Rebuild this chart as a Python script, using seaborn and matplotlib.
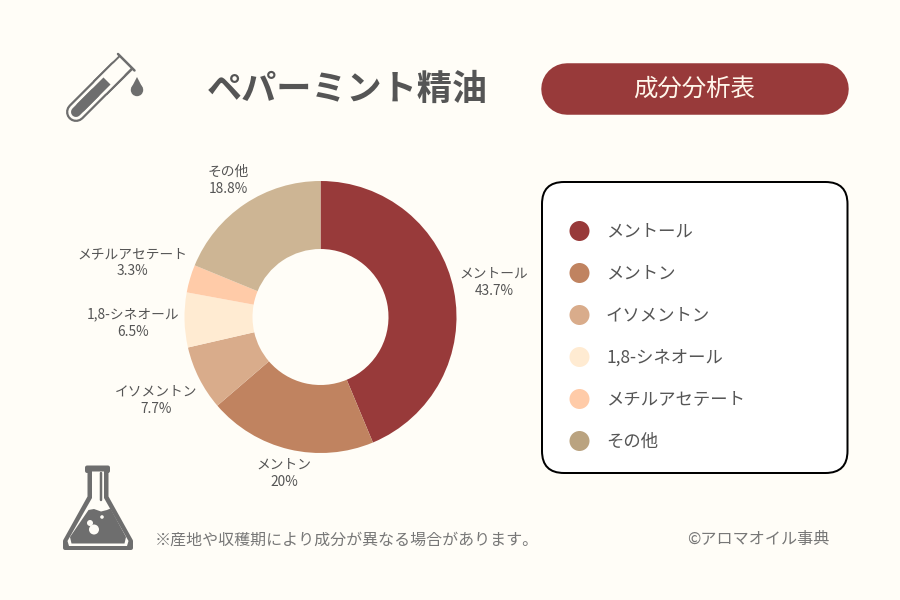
import matplotlib
matplotlib.use("Agg")
import matplotlib.pyplot as plt
from matplotlib.patches import Circle, FancyBboxPatch, Polygon
import pandas as pd
import seaborn as sns

components = ["メントール", "メントン", "イソメントン", "1,8-シネオール", "メチルアセテート", "その他"]
shares = [43.7, 20, 7.7, 6.5, 3.3, 18.8]
share_labels = ["43.7%", "20%", "7.7%", "6.5%", "3.3%", "18.8%"]
pie_colors = ["#983A3A", "#C08360", "#D9AC8B", "#FFEBD2", "#FFCBA8", "#CDB594"]
legend_colors = ["#983A3A", "#C08360", "#D9AC8B", "#FFEBD2", "#FFCBA8", "#BAA380"]

title = "ペパーミント精油"
badge = "成分分析表"
note = "※産地や収穫期により成分が異なる場合があります。"
credit = "©アロマオイル事典"

BG = "#FFFDF7"
INK = "#555555"
ICON = "#6E6E6E"

sns.set_theme(style="white")
plt.rcParams["font.family"] = ["Noto Sans CJK JP", "DejaVu Sans"]

fig = plt.figure(figsize=(9, 6), dpi=100, facecolor=BG)

# whole figure in pixel coordinates, for the layout parts
ax = fig.add_axes([0, 0, 1, 1])
ax.set_xlim(0, 900)
ax.set_ylim(600, 0)
ax.axis("off")


def px(n):
    return n * 0.72


def stroke(p0, p1, width, color, cap="butt", z=3):
    ax.plot([p0[0], p1[0]], [p0[1], p1[1]], color=color, lw=px(width),
            solid_capstyle=cap, zorder=z)


# header
ax.text(347, 89, title, fontsize=25.3, fontweight="bold", color=INK, ha="center", va="center")
stroke((567, 88.5), (823, 88.5), 51.5, "#983A3A", "round")
ax.text(694.5, 89, badge, fontsize=17.6, color="#FFF6EA", ha="center", va="center", zorder=4)

# test tube icon
rim_mid = (126, 62.5)
tube_end = (76, 112)
stroke(tube_end, (118, 70), 20, ICON, "round")
stroke((100, 88), rim_mid, 20, ICON, "butt")
stroke(tube_end, (118, 70), 15.5, BG, "round", z=4)
stroke((100, 88), (127, 61), 15.5, BG, "butt", z=4)
stroke(tube_end, (95, 93), 10, ICON, "round", z=5)
stroke((80, 108), (107, 81), 10, ICON, "butt", z=5)
stroke((118, 54), (134.5, 70.5), 2.5, ICON, "round", z=6)
ax.add_patch(Circle((137, 90), 6.2, fc=ICON, ec="none", zorder=5))
ax.add_patch(Polygon([(137, 77), (131.3, 88), (142.7, 88)], fc=ICON, ec="none", zorder=5))

# flask icon
outer = [(87, 467.5), (108, 467.5), (108, 471), (106.5, 471), (106.5, 497), (131, 541),
         (131, 548), (65, 548), (65, 541), (89.5, 497), (89.5, 471), (87, 471)]
ax.add_patch(Polygon(outer, fc=ICON, ec=ICON, lw=px(4), joinstyle="round", zorder=3))
inner = [(92, 471.5), (104, 471.5), (104, 498), (128.5, 541), (127, 546), (69, 546),
         (67.5, 541), (92, 498)]
ax.add_patch(Polygon(inner, fc=BG, ec="none", zorder=4))
liquid = [(88.5, 510), (94, 509), (101, 511.5), (107, 510), (110.5, 508.5), (126, 537), (124.5, 543.5),
          (71.5, 543.5), (70, 537)]
ax.add_patch(Polygon(liquid, fc=ICON, ec="none", zorder=5))
stroke((101, 473), (101, 500), 2.5, ICON, "round", z=5)
for x, y, r in [(90, 523, 3), (94, 529.5, 5), (102, 517, 1.8)]:
    ax.add_patch(Circle((x, y), r, fc=BG, ec="none", zorder=6))

# legend box
ax.add_patch(FancyBboxPatch((542, 182), 305.5, 291, boxstyle="round,pad=0,rounding_size=22",
                            fc="white", ec="black", lw=px(2), zorder=2))
legend_df = pd.DataFrame({"component": components,
                          "x": [579.5] * len(components),
                          "y": [231 + 42 * i for i in range(len(components))]})
sns.scatterplot(data=legend_df, x="x", y="y", hue="component", palette=legend_colors,
                s=px(20) ** 2, linewidth=0, legend=False, ax=ax, zorder=3)
ax.set_xlim(0, 900)
ax.set_ylim(600, 0)
ax.axis("off")
for name, y in zip(components, legend_df["y"]):
    ax.text(606, y + 0.5, name, fontsize=12.5, color=INK, ha="left", va="center", zorder=3)

# footer
ax.text(155, 540, note, fontsize=11.5, color="#777777", ha="left", va="center")
ax.text(829, 539.5, credit, fontsize=11.6, color="#777777", ha="right", va="center")

# donut
CX, CY, R = 320.5, 317, 136
pie_ax = fig.add_axes([(CX - R) / 900, (600 - CY - R) / 600, 2 * R / 900, 2 * R / 600])
pie_ax.pie(shares, colors=sns.color_palette(pie_colors), startangle=90, counterclock=False,
           radius=1, wedgeprops={"width": 0.5, "linewidth": 0})
pie_ax.set_xlim(-1, 1)
pie_ax.set_ylim(-1, 1)
pie_ax.patch.set_alpha(0)

# slice labels
label_x = [494, 284, 156, 133, 132, 228]
label_y = [282.5, 473.5, 400.5, 323, 262.5, 180.5]
for name, pct, x, y in zip(components, share_labels, label_x, label_y):
    ax.text(x, y, f"{name}\n{pct}", fontsize=9.9, color=INK, ha="center", va="center",
            linespacing=1.3, zorder=7)

fig.savefig("out.png", dpi=100, facecolor=BG)
